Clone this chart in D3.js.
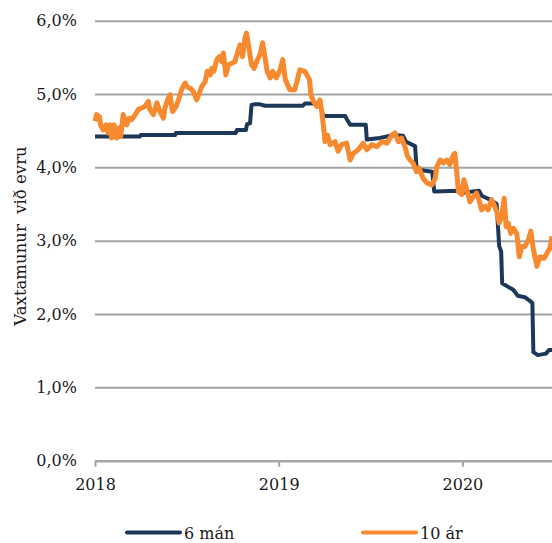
<!DOCTYPE html>
<html>
<head>
<meta charset="utf-8">
<script src="https://cdn.jsdelivr.net/npm/d3@7"></script>
<style>
  html, body { margin: 0; padding: 0; background: #fff; }
  svg text { font-family: "DejaVu Serif", serif; fill: #1a1a1a; }
</style>
</head>
<body>
<svg id="chart" width="552" height="543"></svg>
<script>
// 6 mán - step-like series
const sixMonthDates = [
  "2018-01-01","2018-03-31","2018-04-02","2018-06-09","2018-06-11","2018-10-08","2018-10-10",
  "2018-10-28","2018-10-30","2018-11-05","2018-11-08","2018-11-13","2018-11-25","2018-12-05",
  "2019-02-18","2019-02-22","2019-03-24","2019-03-30","2019-05-13","2019-05-17","2019-05-23",
  "2019-06-23","2019-06-25","2019-07-21","2019-08-16","2019-09-05","2019-09-11","2019-09-29",
  "2019-10-02","2019-11-02","2019-11-06","2019-12-23","2019-12-29","2020-02-03","2020-02-09",
  "2020-02-25","2020-03-09","2020-03-14","2020-03-18","2020-03-20","2020-04-01","2020-04-11",
  "2020-04-20","2020-05-04","2020-05-14","2020-05-19","2020-05-21","2020-05-30","2020-06-15",
  "2020-06-21","2020-06-27"
];
const sixMonthValues = [
  4.42,4.42,4.44,4.44,4.47,4.47,4.51,
  4.51,4.59,4.60,4.85,4.86,4.86,4.84,
  4.84,4.87,4.87,4.70,4.70,4.65,4.58,
  4.58,4.38,4.40,4.44,4.43,4.35,4.29,
  3.97,3.94,3.67,3.68,3.65,3.68,3.61,
  3.56,3.50,2.93,2.85,2.42,2.37,2.33,
  2.25,2.23,2.18,2.15,1.48,1.44,1.46,
  1.51,1.51
];

// 10 ár
const tenYearDates = [
  "2018-01-01","2018-01-04","2018-01-10","2018-01-12","2018-01-17","2018-01-23","2018-01-27","2018-01-31",
  "2018-02-03","2018-02-08","2018-02-13","2018-02-18","2018-02-21","2018-02-26","2018-03-02","2018-03-05",
  "2018-03-10","2018-03-15","2018-03-22","2018-03-28","2018-04-04","2018-04-10","2018-04-17","2018-04-20",
  "2018-04-27","2018-05-04","2018-05-10","2018-05-17","2018-05-20","2018-05-25","2018-05-30","2018-06-04",
  "2018-06-11","2018-06-16","2018-06-22","2018-06-29","2018-07-03","2018-07-09","2018-07-15","2018-07-22",
  "2018-07-27","2018-08-01","2018-08-08","2018-08-12","2018-08-18","2018-08-21","2018-08-25","2018-08-31",
  "2018-09-05","2018-09-10","2018-09-13","2018-09-18","2018-09-23","2018-09-30","2018-10-06","2018-10-10",
  "2018-10-16","2018-10-21","2018-10-26","2018-10-29","2018-11-04","2018-11-08","2018-11-13","2018-11-18",
  "2018-11-25","2018-11-30","2018-12-05","2018-12-09","2018-12-15","2018-12-20","2018-12-27","2019-01-04",
  "2019-01-09","2019-01-14","2019-01-23","2019-02-02","2019-02-12","2019-02-22","2019-03-03","2019-03-06",
  "2019-03-11","2019-03-18","2019-03-24","2019-03-27","2019-03-31","2019-04-03","2019-04-08","2019-04-13",
  "2019-04-23","2019-04-29","2019-05-06","2019-05-16","2019-05-23","2019-05-29","2019-06-08","2019-06-18",
  "2019-06-25","2019-07-05","2019-07-15","2019-07-25","2019-08-04","2019-08-14","2019-08-20","2019-08-27",
  "2019-09-02","2019-09-09","2019-09-14","2019-09-19","2019-09-25","2019-10-02","2019-10-07","2019-10-15",
  "2019-10-22","2019-11-01","2019-11-08","2019-11-11","2019-11-18","2019-11-24","2019-12-01","2019-12-07",
  "2019-12-14","2019-12-17","2019-12-21","2019-12-24","2019-12-31","2020-01-04","2020-01-10","2020-01-16",
  "2020-01-23","2020-01-29","2020-02-04","2020-02-08","2020-02-15","2020-02-21","2020-02-28","2020-03-04",
  "2020-03-09","2020-03-14","2020-03-19","2020-03-24","2020-03-28","2020-04-01","2020-04-06","2020-04-11",
  "2020-04-18","2020-04-23","2020-04-28","2020-05-04","2020-05-11","2020-05-16","2020-05-21","2020-05-28",
  "2020-06-03","2020-06-11","2020-06-17","2020-06-23","2020-06-27"
];
const tenYearValues = [
  4.63,4.72,4.69,4.58,4.51,4.58,4.47,4.58,
  4.40,4.58,4.40,4.54,4.42,4.72,4.63,4.58,
  4.67,4.65,4.72,4.79,4.81,4.83,4.90,4.79,
  4.72,4.88,4.76,4.67,4.81,4.92,4.99,4.76,
  4.83,4.92,5.06,5.15,5.10,5.08,5.04,4.92,
  5.01,5.10,5.17,5.31,5.26,5.35,5.31,5.47,
  5.51,5.44,5.56,5.26,5.40,5.42,5.44,5.54,
  5.67,5.51,5.76,5.83,5.58,5.40,5.35,5.44,
  5.54,5.70,5.49,5.31,5.22,5.31,5.22,5.33,
  5.47,5.20,5.06,5.06,5.33,5.31,5.20,4.99,
  4.90,4.83,4.92,4.79,4.56,4.35,4.44,4.31,
  4.35,4.22,4.31,4.33,4.10,4.19,4.24,4.33,
  4.24,4.31,4.28,4.35,4.33,4.44,4.47,4.35,
  4.40,4.28,4.15,4.10,4.06,3.94,3.99,3.85,
  3.79,3.76,3.85,4.01,4.10,4.06,4.10,4.04,
  4.17,4.19,3.92,3.67,3.63,3.83,3.69,3.53,
  3.60,3.65,3.53,3.42,3.47,3.42,3.56,3.49,
  3.40,3.24,3.33,3.58,3.19,3.24,3.10,3.17,
  3.10,2.78,2.92,2.92,3.01,3.13,2.88,2.65,
  2.78,2.76,2.83,2.90,3.06
];

const yTicks = [0, 1, 2, 3, 4, 5, 6];
const yearTicks = ["2018-01-01", "2019-01-01", "2020-01-01"];
const seriesNames = ["6 mán", "10 ár"];
const seriesColors = ["#1d3758", "#f7892f"];
const yTitle = "Vaxtamunur  við evru";

const parse = d3.timeParse("%Y-%m-%d");
const isLocale = d3.formatLocale({ decimal: ",", thousands: ".", grouping: [3], currency: ["", " kr."] });
const pct = v => isLocale.format(".1f")(v) + "%";

const svg = d3.select("#chart");
const plotLeft = 95, plotRight = 552, plotTop = 20.7, plotBottom = 460.7;

const x = d3.scaleTime()
  .domain([parse("2018-01-01"), parse("2020-06-27")])
  .range([plotLeft, plotRight]);
const y = d3.scaleLinear().domain([0, 6]).range([plotBottom, plotTop]);

// horizontal gridlines + y labels
const yAxis = svg.append("g")
  .attr("transform", `translate(${plotLeft},0)`)
  .call(d3.axisLeft(y).tickValues(yTicks).tickSize(-(plotRight - plotLeft)).tickPadding(18).tickFormat(pct));
yAxis.select(".domain").remove();
yAxis.selectAll(".tick line").attr("stroke", "#a3a3a3").attr("stroke-width", 2);
yAxis.selectAll(".tick text").style("font-size", "16px").attr("fill", "#1a1a1a");

// x axis
const xAxis = svg.append("g")
  .attr("transform", `translate(0,${plotBottom})`)
  .call(d3.axisBottom(x).tickValues(yearTicks.map(parse)).tickSize(6).tickSizeOuter(0).tickFormat(d3.timeFormat("%Y")));
xAxis.select(".domain").attr("stroke", "#a3a3a3").attr("stroke-width", 2);
xAxis.selectAll(".tick line").attr("stroke", "#a3a3a3").attr("stroke-width", 2);
xAxis.selectAll(".tick text").style("font-size", "16px").attr("y", 18).attr("fill", "#1a1a1a");

// lines
const line = d3.line()
  .x(d => x(d[0]))
  .y(d => y(d[1]));

const series = [
  d3.zip(sixMonthDates.map(parse), sixMonthValues),
  d3.zip(tenYearDates.map(parse), tenYearValues)
];

svg.append("g")
  .selectAll("path")
  .data(series)
  .join("path")
  .attr("d", line)
  .attr("fill", "none")
  .attr("stroke", (_, i) => seriesColors[i])
  .attr("stroke-width", (_, i) => i === 0 ? 4 : 5)
  .attr("stroke-linejoin", "round");

// y title
svg.append("text")
  .attr("transform", "translate(26,236) rotate(-90)")
  .attr("text-anchor", "middle")
  .style("font-size", "16.5px")
  .style("white-space", "pre")
  .text(yTitle);

// legend
const legendX = [127, 363];
const legend = svg.append("g")
  .selectAll("g")
  .data(seriesNames)
  .join("g")
  .attr("transform", (_, i) => `translate(${legendX[i]},532.5)`);
legend.append("line")
  .attr("x1", 0).attr("x2", 53)
  .attr("stroke", (_, i) => seriesColors[i])
  .attr("stroke-width", 4)
  .attr("stroke-linecap", "round");
legend.append("text")
  .attr("x", 57)
  .attr("y", 6)
  .style("font-size", "16px")
  .text(d => d);
</script>
</body>
</html>
